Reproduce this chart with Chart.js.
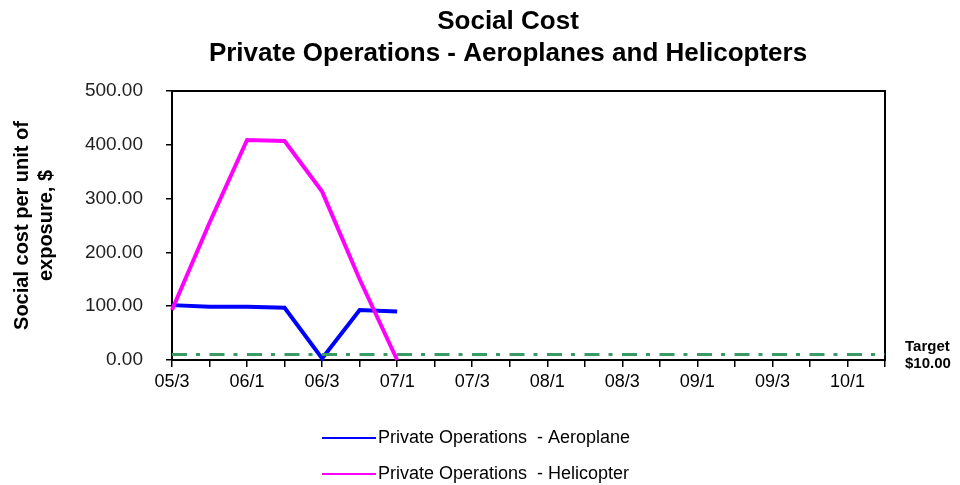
<!DOCTYPE html>
<html>
<head>
<meta charset="utf-8">
<script src="https://cdn.jsdelivr.net/npm/chart.js@4.4.0/dist/chart.umd.min.js"></script>
<style>
  html, body { margin: 0; padding: 0; background: #fff; }
  #wrap { width: 960px; height: 485px; }
</style>
</head>
<body>
<div id="wrap"><canvas id="chart" width="960" height="485"></canvas></div>
<script>
// quarters, year/quarter
const quarters = ['05/3', '05/4', '06/1', '06/2', '06/3', '06/4', '07/1', '07/2', '07/3', '07/4',
                  '08/1', '08/2', '08/3', '08/4', '09/1', '09/2', '09/3', '09/4', '10/1', '10/2'];
const aeroplane = [102, 99, 99, 97, 3, 93, 90, null, null, null,
                   null, null, null, null, null, null, null, null, null, null];
const helicopter = [93, 255, 409, 407, 313, 150, 0, null, null, null,
                    null, null, null, null, null, null, null, null, null, null];
const target = [10, 10, 10, 10, 10, 10, 10, 10, 10, 10,
                10, 10, 10, 10, 10, 10, 10, 10, 10, 10];
const targetLabel = ['Target', '$10.00'];
const seriesNames = ['Private Operations  - Aeroplane', 'Private Operations  - Helicopter'];
const titleLines = ['Social Cost', 'Private Operations - Aeroplanes and Helicopters'];
const yTitle = ['Social cost per unit of', 'exposure, $'];

const FONT = '"Liberation Sans", Arial, sans-serif';

const decorations = {
  id: 'decorations',
  beforeDatasetsDraw(chart) {
    const { ctx, chartArea: a } = chart;
    ctx.save();
    ctx.strokeStyle = '#000';
    ctx.lineWidth = 2;
    ctx.strokeRect(a.left, a.top, a.right - a.left, a.bottom - a.top);
    ctx.restore();
  },
  afterDraw(chart) {
    const { ctx } = chart;
    ctx.save();
    ctx.fillStyle = '#000';
    ctx.textBaseline = 'middle';

    // two line title
    ctx.font = 'bold 26px ' + FONT;
    ctx.textAlign = 'center';
    ctx.fillText(titleLines[0], 508, 22);
    ctx.fillText(titleLines[1], 508, 54);

    // target note at the right of the plot
    ctx.font = 'bold 15px ' + FONT;
    ctx.textAlign = 'left';
    ctx.fillText(targetLabel[0], 905, 347);
    ctx.fillText(targetLabel[1], 905, 364);

    // legend, one entry per line, target left out
    ctx.font = '18px ' + FONT;
    [0, 1].forEach((i) => {
      const ds = chart.data.datasets[i];
      const y = 438 + i * 36;
      ctx.strokeStyle = ds.borderColor;
      ctx.lineWidth = 2;
      ctx.beginPath();
      ctx.moveTo(322, y);
      ctx.lineTo(376, y);
      ctx.stroke();
      ctx.fillText(ds.label, 378, y);
    });
    ctx.restore();
  }
};

new Chart(document.getElementById('chart'), {
  type: 'line',
  data: {
    labels: quarters,
    datasets: [
      {
        label: seriesNames[0],
        data: aeroplane,
        borderColor: '#0000ff',
        borderWidth: 4,
        pointRadius: 0,
        tension: 0,
        clip: false,
        order: 3
      },
      {
        label: seriesNames[1],
        data: helicopter,
        borderColor: '#ff00ff',
        borderWidth: 4,
        pointRadius: 0,
        tension: 0,
        clip: false,
        order: 2
      },
      {
        label: 'Target',
        data: target,
        borderColor: '#3a9a64',
        borderWidth: 3,
        borderDash: [15, 9, 4, 9.5],
        pointRadius: 0,
        tension: 0,
        order: 1
      }
    ]
  },
  options: {
    responsive: false,
    animation: false,
    layout: { padding: { top: 91, right: 75, left: 0, bottom: 0 } },
    plugins: {
      legend: { display: false },
      title: { display: false },
      tooltip: { enabled: false }
    },
    scales: {
      x: {
        offset: false,
        border: { display: false },
        grid: { drawOnChartArea: false, drawTicks: true, tickLength: 7, color: '#000', lineWidth: 1.5 },
        ticks: {
          autoSkip: false,
          maxRotation: 0,
          padding: 4,
          color: '#000',
          font: { family: FONT, size: 18 },
          callback: (v, i) => (i % 2 === 0 ? quarters[i] : '')
        },
        afterFit: (s) => { s.height = 125; }
      },
      y: {
        min: 0,
        max: 500,
        border: { display: false },
        grid: { drawOnChartArea: false, drawTicks: true, tickLength: 6, color: '#000', lineWidth: 1.5 },
        ticks: {
          stepSize: 100,
          padding: 23,
          color: '#222',
          font: { family: FONT, size: 19 },
          callback: (v) => v.toFixed(2)
        },
        title: {
          display: true,
          text: yTitle,
          color: '#000',
          font: { family: FONT, size: 20, weight: 'bold' },
          padding: { top: 10, bottom: 0 }
        },
        afterFit: (s) => { s.width = 172; }
      }
    }
  },
  plugins: [decorations]
});
</script>
</body>
</html>
